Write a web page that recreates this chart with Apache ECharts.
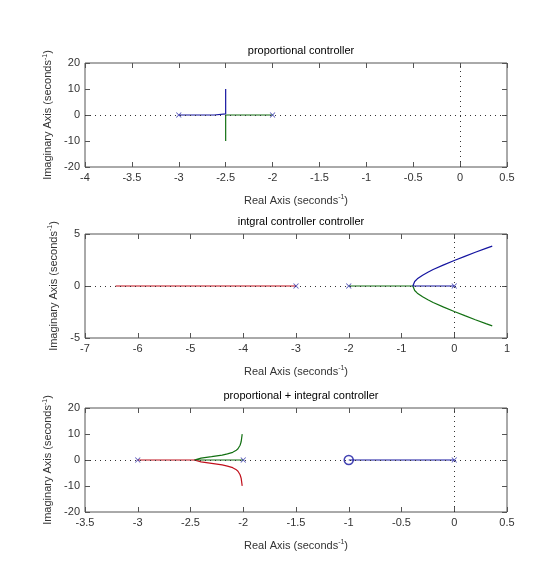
<!DOCTYPE html>
<html>
<head>
<meta charset="utf-8">
<script src="https://cdn.jsdelivr.net/npm/echarts@6/dist/echarts.min.js"></script>
<style>
  html, body { margin: 0; padding: 0; background: #fff; }
  #main { width: 560px; height: 575px; }
</style>
</head>
<body>
<div id="main"></div>
<script>
var blueColor = '#1414a0';
var greenColor = '#127012';
var redColor = '#c0101c';

// subplot titles
var titles = ['proportional controller', 'intgral controller controller', 'proportional + integral controller'];

// axis ranges [min, max, interval]
var xRanges = [[-4, 0.5, 0.5], [-7, 1, 1], [-3.5, 0.5, 0.5]];
var yRanges = [[-20, 20, 10], [-5, 5, 5], [-20, 20, 10]];

// proportional controller
var p1Blue = [[-3, 0], [-2.62, 0], [-2.6, 0.4], [-2.5, 0.4], [-2.5, 10]];
var p1Green = [[-2, 0], [-2.5, 0], [-2.5, -10]];
var p1Poles = [[-3, 0], [-2, 0]];

// integral controller
var p2Red = [[-3, 0], [-6.42, 0]];
var p2Green = [[-2, 0], [-0.785, 0], [-0.75, -0.43], [-0.7, -0.69], [-0.6, -1.04], [-0.5, -1.32],
  [-0.4, -1.58], [-0.2, -2.03], [0, -2.45], [0.2, -2.85], [0.4, -3.24], [0.6, -3.62], [0.72, -3.84]];
var p2Blue = [[0, 0], [-0.785, 0], [-0.75, 0.43], [-0.7, 0.69], [-0.6, 1.04], [-0.5, 1.32],
  [-0.4, 1.58], [-0.2, 2.03], [0, 2.45], [0.2, 2.85], [0.4, 3.24], [0.6, 3.62], [0.72, 3.84]];
var p2Poles = [[-3, 0], [-2, 0], [0, 0]];

// proportional + integral controller
var p3Blue = [[-1, 0], [0, 0]];
var p3Green = [[-2, 0], [-2.465, 0], [-2.4, 0.73], [-2.3, 1.28], [-2.2, 1.89], [-2.15, 2.35], [-2.1, 2.96],
  [-2.07, 3.62], [-2.05, 4.35], [-2.03, 5.68], [-2.02, 7.0], [-2.01, 9.95]];
var p3Red = [[-3, 0], [-2.465, 0], [-2.4, -0.73], [-2.3, -1.28], [-2.2, -1.89], [-2.15, -2.35], [-2.1, -2.96],
  [-2.07, -3.62], [-2.05, -4.35], [-2.03, -5.68], [-2.02, -7.0], [-2.01, -9.95]];
var p3Poles = [[-3, 0], [-2, 0], [0, 0]];
var p3Zeros = [[-1, 0]];

var gridTops = [63, 234, 408];
var frameColor = '#555';
var textColor = '#333';
var crossPath = 'path://M4.4,0H5.6V4.4H10V5.6H5.6V10H4.4V5.6H0V4.4H4.4Z';

var chart = echarts.init(document.getElementById('main'));

var grids = [], xAxes = [], yAxes = [], titleList = [], series = [];

for (var i = 0; i < 3; i++) {
    grids.push({
        left: 85, right: 53, top: gridTops[i], height: 104,
        show: true, borderColor: frameColor, borderWidth: 1, backgroundColor: '#fff'
    });
    titleList.push({
        text: titles[i], left: 296, top: gridTops[i] - 23, textAlign: 'center',
        textStyle: {fontSize: 11, fontWeight: 'normal', color: '#000', fontFamily: 'Liberation Sans'}
    });
    var xr = xRanges[i], yr = yRanges[i];
    // bottom / left axes carry labels, top / right only ticks (box style)
    xAxes.push({
        type: 'value', gridIndex: i, position: 'bottom', min: xr[0], max: xr[1], interval: xr[2],
        axisLine: {show: false, onZero: false},
        axisTick: {show: true, inside: true, length: 5, lineStyle: {color: frameColor}},
        axisLabel: {color: textColor, fontSize: 11, margin: 5, fontFamily: 'Liberation Sans'},
        splitLine: {show: false},
        name: 'Real Axis (seconds{sup|-1})', nameLocation: 'middle', nameGap: 27,
        nameTextStyle: {color: textColor, fontSize: 11, fontFamily: 'Liberation Sans',
            rich: {sup: {fontSize: 7, verticalAlign: 'top', color: textColor, padding: [0, 0, 6, 0]}}}
    });
    xAxes.push({
        type: 'value', gridIndex: i, position: 'top', min: xr[0], max: xr[1], interval: xr[2],
        axisLine: {show: false, onZero: false},
        axisTick: {show: true, inside: true, length: 5, lineStyle: {color: frameColor}},
        axisLabel: {show: false}, splitLine: {show: false}
    });
    yAxes.push({
        type: 'value', gridIndex: i, position: 'left', min: yr[0], max: yr[1], interval: yr[2],
        axisLine: {show: false, onZero: false},
        axisTick: {show: true, inside: true, length: 5, lineStyle: {color: frameColor}},
        axisLabel: {color: textColor, fontSize: 11, margin: 5, fontFamily: 'Liberation Sans'},
        splitLine: {show: false},
        name: 'Imaginary Axis (seconds{sup|-1})', nameLocation: 'middle', nameGap: 25, nameRotate: 90,
        nameTextStyle: {color: textColor, fontSize: 11, fontFamily: 'Liberation Sans',
            rich: {sup: {fontSize: 7, verticalAlign: 'top', color: textColor, padding: [0, 0, 6, 0]}}}
    });
    yAxes.push({
        type: 'value', gridIndex: i, position: 'right', min: yr[0], max: yr[1], interval: yr[2],
        axisLine: {show: false, onZero: false},
        axisTick: {show: true, inside: true, length: 5, lineStyle: {color: frameColor}},
        axisLabel: {show: false}, splitLine: {show: false}
    });
}

function lineSeries(idx, data, color, withZero) {
    var s = {
        type: 'line', xAxisIndex: idx * 2, yAxisIndex: idx * 2, data: data,
        showSymbol: false, symbol: 'none', lineStyle: {color: color, width: 1.2}, z: 3
    };
    if (withZero) {
        s.markLine = {
            silent: true, symbol: 'none', label: {show: false},
            lineStyle: {color: '#333', width: 1, type: [1, 4]},
            data: [{yAxis: 0}, {xAxis: 0}]
        };
    }
    return s;
}

function poleSeries(idx, data) {
    return {
        type: 'scatter', xAxisIndex: idx * 2, yAxisIndex: idx * 2, data: data,
        symbol: crossPath, symbolSize: 7, symbolRotate: 45,
        itemStyle: {color: '#2a2aa8'}, z: 5
    };
}

series.push(lineSeries(0, p1Blue, blueColor, true));
series.push(lineSeries(0, p1Green, greenColor));
series.push(poleSeries(0, p1Poles));

series.push(lineSeries(1, p2Red, redColor, true));
series.push(lineSeries(1, p2Green, greenColor));
series.push(lineSeries(1, p2Blue, blueColor));
series.push(poleSeries(1, p2Poles));

series.push(lineSeries(2, p3Blue, blueColor, true));
series.push(lineSeries(2, p3Green, greenColor));
series.push(lineSeries(2, p3Red, redColor));
series.push(poleSeries(2, p3Poles));
series.push({
    type: 'scatter', xAxisIndex: 4, yAxisIndex: 4, data: p3Zeros,
    symbol: 'circle', symbolSize: 9,
    itemStyle: {color: 'rgba(0,0,0,0)', borderColor: blueColor, borderWidth: 1.5}, z: 5
});

chart.setOption({
    animation: false,
    backgroundColor: '#fff',
    title: titleList,
    grid: grids,
    xAxis: xAxes,
    yAxis: yAxes,
    series: series
});
</script>
</body>
</html>
